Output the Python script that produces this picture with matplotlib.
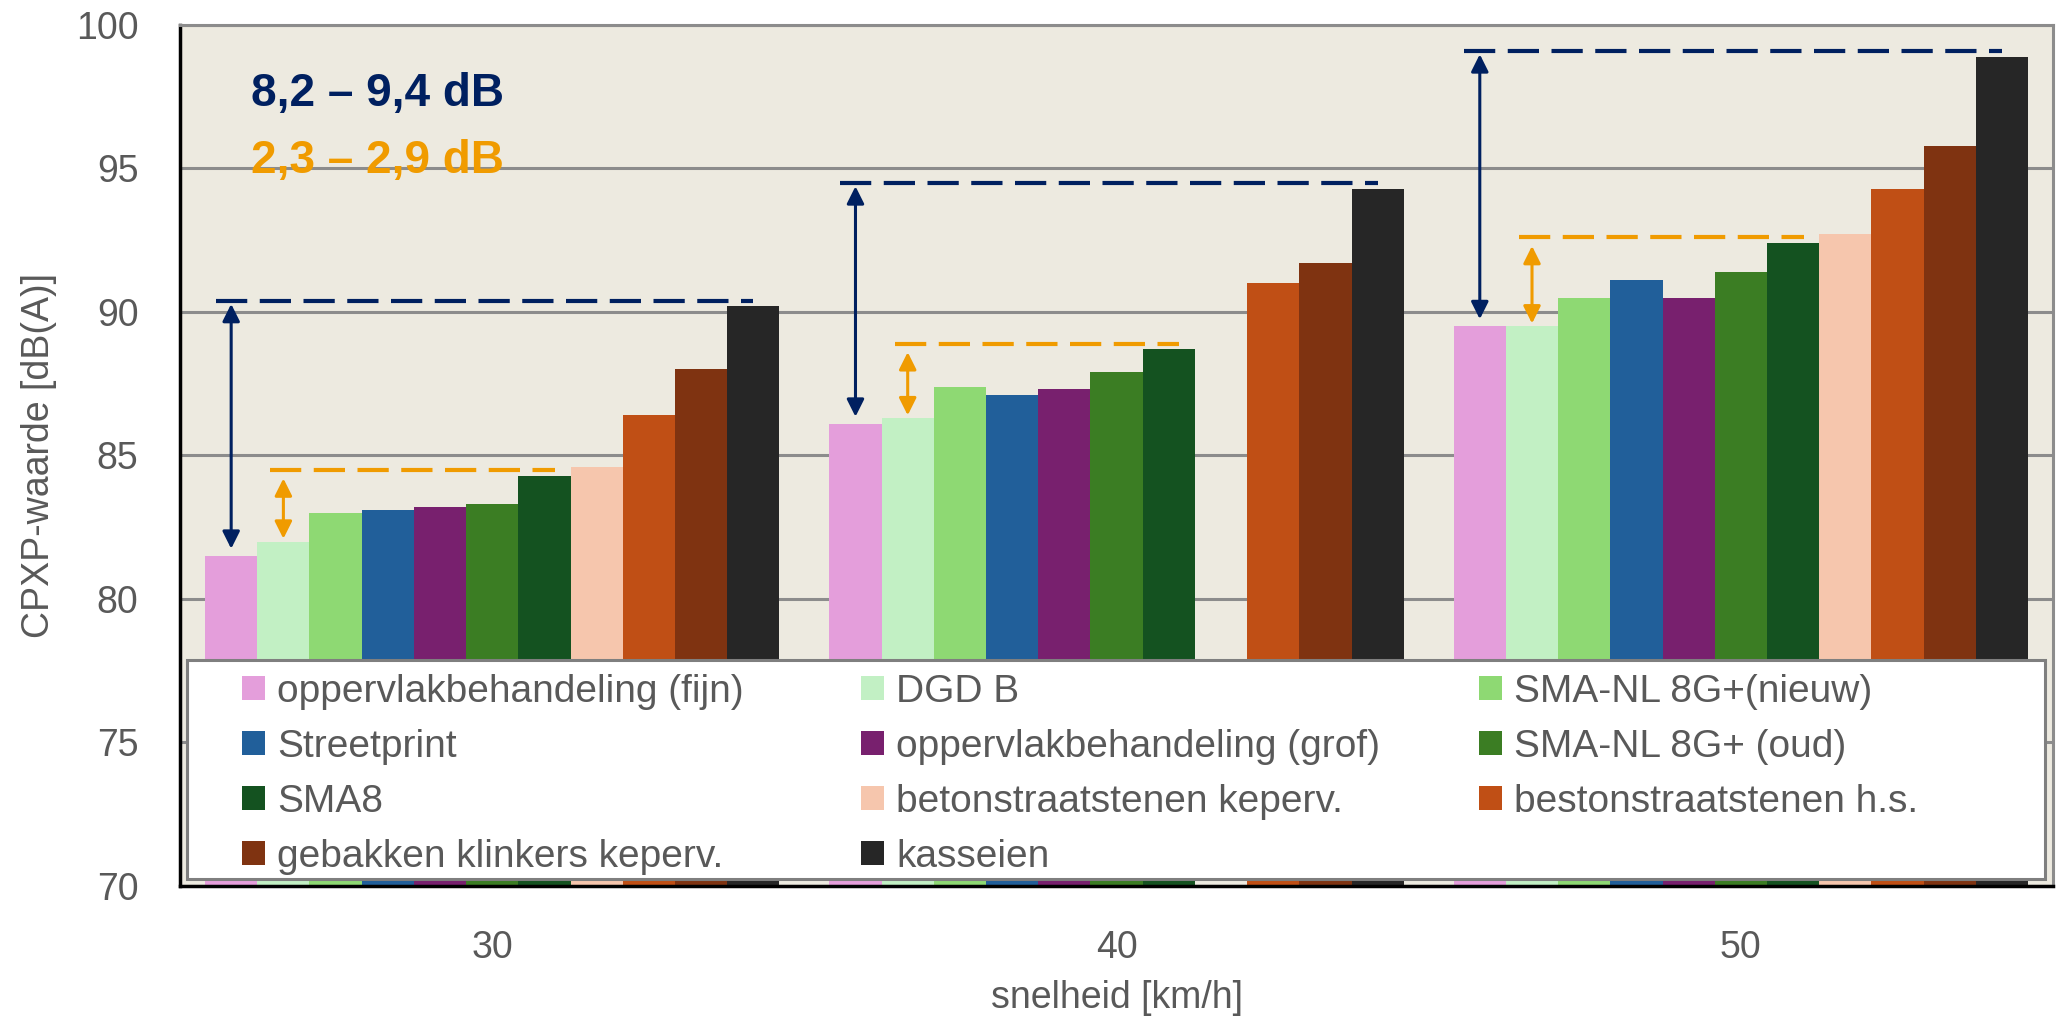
import numpy as np
import matplotlib
matplotlib.use("Agg")
import matplotlib.pyplot as plt
from matplotlib.patches import Rectangle

plt.rcParams['font.family'] = ['Liberation Sans', 'DejaVu Sans']

speeds = ["30", "40", "50"]
surfaces = [
    "oppervlakbehandeling (fijn)", "DGD B", "SMA-NL 8G+(nieuw)",
    "Streetprint", "oppervlakbehandeling (grof)", "SMA-NL 8G+ (oud)",
    "SMA8", "betonstraatstenen keperv.", "bestonstraatstenen h.s.",
    "gebakken klinkers keperv.", "kasseien",
]
colors = [
    "#E49EDB", "#C2F0C4", "#8ED973", "#215F9A", "#78206E", "#3B7D23",
    "#145220", "#F6C6AD", "#C04F15", "#7F3311", "#262626",
]
# CPXP per surface, one value per speed (30, 40, 50 km/h)
cpxp = {
    "oppervlakbehandeling (fijn)": [81.5, 86.1, 89.5],
    "DGD B": [82.0, 86.3, 89.5],
    "SMA-NL 8G+(nieuw)": [83.0, 87.4, 90.5],
    "Streetprint": [83.1, 87.1, 91.1],
    "oppervlakbehandeling (grof)": [83.2, 87.3, 90.5],
    "SMA-NL 8G+ (oud)": [83.3, 87.9, 91.4],
    "SMA8": [84.3, 88.7, 92.4],
    "betonstraatstenen keperv.": [84.6, np.nan, 92.7],
    "bestonstraatstenen h.s.": [86.4, 91.0, 94.3],
    "gebakken klinkers keperv.": [88.0, 91.7, 95.8],
    "kasseien": [90.2, 94.3, 98.9],
}
range_all = "8,2 – 9,4 dB"
range_asphalt = "2,3 – 2,9 dB"

navy = "#002060"
amber = "#F09B00"
grey_txt = "#595959"

fig = plt.figure(figsize=(20.70, 10.16), dpi=100)
ax = fig.add_axes([0.0870, 0.1280, 0.9048, 0.8474])
ax.set_facecolor("#EDEAE0")

n = len(surfaces)
x = np.arange(len(speeds))
w = 0.92 / n
offsets = (np.arange(n) - (n - 1) / 2) * w

for i, s in enumerate(surfaces):
    ax.bar(x + offsets[i], cpxp[s], width=w, color=colors[i], zorder=2)

ax.set_xlim(-0.5, len(speeds) - 0.5)
ax.set_ylim(70, 100)
ax.set_yticks(np.arange(70, 101, 5))
ax.set_xticks(x)
ax.set_xticklabels(speeds)
ax.yaxis.grid(True, color="#8C8C8C", linewidth=2.2, zorder=0)
ax.set_axisbelow(True)
ax.tick_params(axis="both", length=0, labelsize=27, colors=grey_txt)
ax.tick_params(axis="y", pad=30)
ax.tick_params(axis="x", pad=32)

for side in ["left", "bottom"]:
    ax.spines[side].set_color("black")
    ax.spines[side].set_linewidth(2.5)
for side in ["top", "right"]:
    ax.spines[side].set_color("#8C8C8C")
    ax.spines[side].set_linewidth(2.2)

ax.set_ylabel("CPXP-waarde [dB(A)]", fontsize=27, color=grey_txt)
ax.yaxis.set_label_coords(-0.0657, 0.5)
ax.set_xlabel("snelheid [km/h]", fontsize=27, color=grey_txt, va="top")
ax.xaxis.set_label_coords(0.5, -0.109)

# spread markers: dashed level over the loudest bar, arrows from the lowest bar
first, dgd, sma8, last = surfaces[0], surfaces[1], surfaces[6], surfaces[-1]
for k in range(len(speeds)):
    x_first = x[k] + offsets[0]
    x_dgd = x[k] + offsets[1]
    x_sma8 = x[k] + offsets[6]
    x_last = x[k] + offsets[-1]

    top_all = cpxp[last][k] + 0.2
    ax.plot([x_first - 0.3 * w, x_last], [top_all, top_all], color=navy,
            lw=3, dashes=(7.5, 3), zorder=4)
    ax.annotate("", xy=(x_first, top_all - 0.12), xytext=(x_first, cpxp[first][k] + 0.25),
                arrowprops=dict(arrowstyle="<|-|>", color=navy, lw=2.2,
                                mutation_scale=26, shrinkA=0, shrinkB=0), zorder=4)

    top_asph = cpxp[sma8][k] + 0.2
    ax.plot([x_dgd - 0.25 * w, x_sma8 + 0.2 * w], [top_asph, top_asph], color=amber,
            lw=3, dashes=(7.5, 3), zorder=4)
    ax.annotate("", xy=(x_dgd, top_asph - 0.3), xytext=(x_dgd, cpxp[dgd][k] + 0.1),
                arrowprops=dict(arrowstyle="<|-|>", color=amber, lw=2.2,
                                mutation_scale=26, shrinkA=0, shrinkB=0), zorder=4)

ax.text(0.038, 0.9193, range_all, transform=ax.transAxes, fontsize=33,
        fontweight="bold", color=navy, va="center", ha="left", zorder=5)
ax.text(0.038, 0.8415, range_asphalt, transform=ax.transAxes, fontsize=33,
        fontweight="bold", color=amber, va="center", ha="left", zorder=5)

# legend box laid out row by row, three columns
ax.add_patch(Rectangle((0.0037, 0.008), 0.992, 0.2545, transform=ax.transAxes,
                       facecolor="white", edgecolor="#7F7F7F", lw=2.2, zorder=6,
                       clip_on=False))
col_x = [0.0331, 0.3636, 0.6935]
row_y = [0.2300, 0.1661, 0.1022, 0.0383]
sq_w, sq_h = 0.0123, 0.0279
for i, s in enumerate(surfaces):
    cx, cy = col_x[i % 3], row_y[i // 3]
    ax.add_patch(Rectangle((cx, cy - sq_h / 2), sq_w, sq_h, transform=ax.transAxes,
                           facecolor=colors[i], edgecolor="none", zorder=7))
    ax.text(cx + 0.0187, cy, s, transform=ax.transAxes, fontsize=28, color=grey_txt,
            va="center_baseline", ha="left", zorder=7)

fig.savefig("out.png", dpi=100)
